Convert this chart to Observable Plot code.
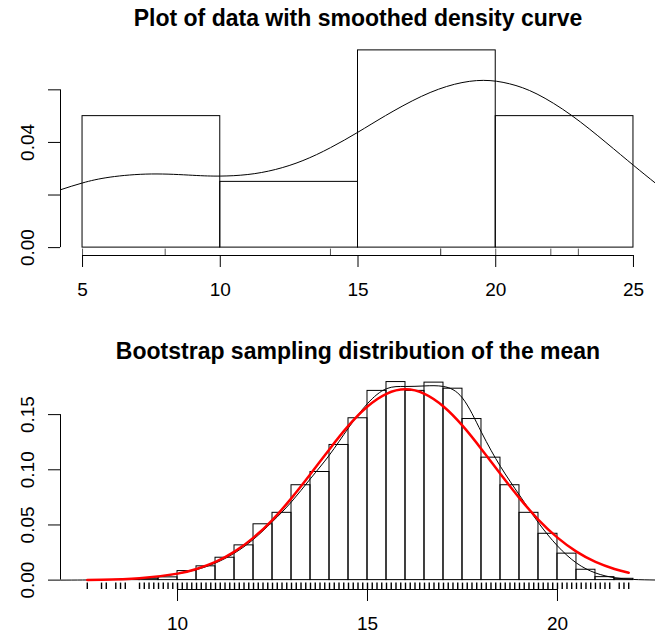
<!DOCTYPE html>
<html>
<head>
<meta charset="utf-8">
<script src="https://cdn.jsdelivr.net/npm/d3@7"></script>
<script src="https://cdn.jsdelivr.net/npm/@observablehq/plot@0.6"></script>
<style>
  body { margin: 0; background: #fff; }
  #chart { width: 656px; height: 634px; position: relative; overflow: hidden; background: #fff; }
  #chart svg { display: block; position: absolute; left: 0; }
</style>
</head>
<body>
<div id="chart"></div>
<script>
// ---------- Panel 1: data with smoothed density ----------
const topTitle = "Plot of data with smoothed density curve";
const sampleValues = [5, 8, 14, 18, 18, 20, 22, 23];
const topBreaks = [5, 10, 15, 20, 25];
const topDensity = [0.05, 0.025, 0.075, 0.05];
const topCurveX = [4.2, 5, 6, 7.5, 9, 10, 11, 12, 13, 14, 15, 16, 17.3, 18.5, 19.55, 20.5, 21.5, 22.75, 24, 25, 25.8];
const topCurveY = [0.0220, 0.0246, 0.0268, 0.0280, 0.0275, 0.0272, 0.0278, 0.0297, 0.0331, 0.0380, 0.0439, 0.0502, 0.0575, 0.0621, 0.0636, 0.0623, 0.0584, 0.0503, 0.0400, 0.0313, 0.0245];
const topXTicks = [5, 10, 15, 20, 25];
const topYTicks = [0, 0.02, 0.04, 0.06];
const topYLabels = [0, 0.04];

// ---------- Panel 2: bootstrap sampling distribution ----------
const bootTitle = "Bootstrap sampling distribution of the mean";
const bootBreaks = [7.5, 8, 8.5, 9, 9.5, 10, 10.5, 11, 11.5, 12, 12.5, 13, 13.5, 14, 14.5, 15, 15.5, 16, 16.5, 17, 17.5, 18, 18.5, 19, 19.5, 20, 20.5, 21, 21.5, 22];
const bootDensity = [0, 0, 0.0004, 0.0012, 0.0025, 0.0082, 0.0125, 0.0203, 0.0315, 0.0506, 0.061, 0.086, 0.098, 0.1225, 0.1467, 0.1715, 0.1795, 0.1715, 0.179, 0.1735, 0.146, 0.111, 0.086, 0.061, 0.042, 0.024, 0.0094, 0.0027, 0.0012];
const kdeX = [6.92, 7.5, 8, 8.5, 9, 9.5, 10, 10.5, 11, 11.5, 12, 12.5, 13, 13.5, 14, 14.5, 15, 15.5, 16, 16.5, 17, 17.5, 18, 18.5, 19, 19.5, 20, 20.5, 21, 21.5, 22, 22.58];
const kdeY = [0, 0.0001, 0.0003, 0.0008, 0.0015, 0.003, 0.0058, 0.0095, 0.0155, 0.0245, 0.037, 0.053, 0.071, 0.092, 0.1135, 0.138, 0.160, 0.1735, 0.1755, 0.176, 0.1755, 0.165, 0.134, 0.103, 0.077, 0.052, 0.031, 0.0155, 0.0065, 0.0022, 0.0006, 0.0001];
const normX = [7.625, 8, 9, 10, 10.5, 11, 11.5, 12, 12.5, 13, 13.5, 14, 14.5, 15, 15.5, 16, 16.5, 17, 17.5, 18, 18.5, 19, 19.5, 20, 20.5, 21, 21.5, 21.875];
const normY = [0.0002, 0.0004, 0.0017, 0.0059, 0.0101, 0.0165, 0.0258, 0.0385, 0.0547, 0.0743, 0.0961, 0.1187, 0.1400, 0.1574, 0.1689, 0.1729, 0.1689, 0.1574, 0.1400, 0.1187, 0.0961, 0.0743, 0.0547, 0.0385, 0.0258, 0.0165, 0.0101, 0.0067];
const bootRug = [
  7.625, 8, 8.125, 8.375, 8.5, 8.625,
  9, 9.125, 9.25, 9.375, 9.5, 9.625, 9.75, 9.875,
  10, 10.125, 10.25, 10.375, 10.5, 10.625, 10.75, 10.875,
  11, 11.125, 11.25, 11.375, 11.5, 11.625, 11.75, 11.875,
  12, 12.125, 12.25, 12.375, 12.5, 12.625, 12.75, 12.875,
  13, 13.125, 13.25, 13.375, 13.5, 13.625, 13.75, 13.875,
  14, 14.125, 14.25, 14.375, 14.5, 14.625, 14.75, 14.875,
  15, 15.125, 15.25, 15.375, 15.5, 15.625, 15.75, 15.875,
  16, 16.125, 16.25, 16.375, 16.5, 16.625, 16.75, 16.875,
  17, 17.125, 17.25, 17.375, 17.5, 17.625, 17.75, 17.875,
  18, 18.125, 18.25, 18.375, 18.5, 18.625, 18.75, 18.875,
  19, 19.125, 19.25, 19.375, 19.5, 19.625, 19.75, 19.875,
  20, 20.125, 20.25, 20.375, 20.5, 20.625, 20.75, 20.875,
  21, 21.125, 21.25, 21.375, 21.625, 21.75, 21.875
];
const bootXTicks = [10, 15, 20];
const bootYTicks = [0, 0.05, 0.10, 0.15];
const bootYLabels = [0, 0.05, 0.10, 0.15];

// ---------- helpers ----------
const FONT = "'Liberation Sans', Arial, Helvetica, sans-serif";
const bins = (breaks, dens) => dens.map((d, i) => ({x1: breaks[i], x2: breaks[i + 1], density: d}));
const pts = (xs, ys) => xs.map((x, i) => ({x, y: ys[i]}));

function panel({title, xDomain, yDomain, marginTop, marginBottom, binsData, curves, rug, rugStroke, rugWidth, xTicks, yTicks, yLabels}) {
  const yb = yDomain[0];
  const rugTop = yb + 0.03 * (yDomain[1] - yDomain[0]);
  return Plot.plot({
    width: 656,
    height: 317,
    marginLeft: 60,
    marginRight: 1,
    marginTop,
    marginBottom,
    x: {domain: xDomain},
    y: {domain: yDomain},
    style: {fontFamily: FONT, fontSize: "19px", color: "black", background: "white", overflow: "visible"},
    marks: [
      Plot.rect(binsData, {x1: "x1", x2: "x2", y1: 0, y2: "density", fill: "none", stroke: "black", strokeWidth: 1}),
      ...curves.filter(c => !c.onTop).map(c => Plot.line(c.data, {x: "x", y: "y", curve: "natural", stroke: c.stroke, strokeWidth: c.width, clip: true})),
      Plot.ruleX(rug, {x: d => d, y1: yb, y2: rugTop, stroke: rugStroke, strokeWidth: rugWidth}),
      ...curves.filter(c => c.onTop).map(c => Plot.line(c.data, {x: "x", y: "y", curve: "natural", stroke: c.stroke, strokeWidth: c.width, clip: true})),
      // x axis
      Plot.ruleY([yb], {x1: xTicks[0], x2: xTicks[xTicks.length - 1], stroke: "black"}),
      Plot.axisX({ticks: xTicks, tickSize: 12, tickPadding: 15, fontSize: 19, label: null, tickFormat: d => String(d)}),
      // y axis
      Plot.ruleX([xDomain[0]], {y1: yTicks[0], y2: yTicks[yTicks.length - 1], stroke: "black"}),
      Plot.axisY({ticks: yTicks, tickSize: 12, label: null, tickFormat: () => ""}),
      Plot.text(yLabels, {y: d => d, text: d => d.toFixed(2), frameAnchor: "left", dx: -33, rotate: -90, textAnchor: "middle", lineAnchor: "middle", fontSize: 19}),
      // title
      Plot.text([title], {frameAnchor: "top", dy: -17, lineAnchor: "bottom", fontSize: 23, fontWeight: "bold"})
    ]
  });
}

const topPanel = panel({
  title: topTitle,
  xDomain: [4.2, 25.8],
  yDomain: [-0.003, 0.078],
  marginTop: 42,
  marginBottom: 62,
  binsData: bins(topBreaks, topDensity),
  curves: [{data: pts(topCurveX, topCurveY), stroke: "black", width: 1}],
  rug: sampleValues,
  rugStroke: "#555",
  rugWidth: 1,
  xTicks: topXTicks,
  yTicks: topYTicks,
  yLabels: topYLabels
});

const bottomPanel = panel({
  title: bootTitle,
  xDomain: [6.92, 22.58],
  yDomain: [-0.0085, 0.185],
  marginTop: 58.5,
  marginBottom: 45,
  binsData: bins(bootBreaks, bootDensity),
  curves: [
    {data: pts(kdeX, kdeY), stroke: "black", width: 1},
    {data: pts(normX, normY), stroke: "#ff0000", width: 2.5, onTop: true}
  ],
  rug: bootRug,
  rugStroke: "#000",
  rugWidth: 1.4,
  xTicks: bootXTicks,
  yTicks: bootYTicks,
  yLabels: bootYLabels
});

const chartEl = document.getElementById("chart");
topPanel.style.top = "0px";
bottomPanel.style.top = "317px";
chartEl.appendChild(topPanel);
chartEl.appendChild(bottomPanel);
</script>
</body>
</html>
